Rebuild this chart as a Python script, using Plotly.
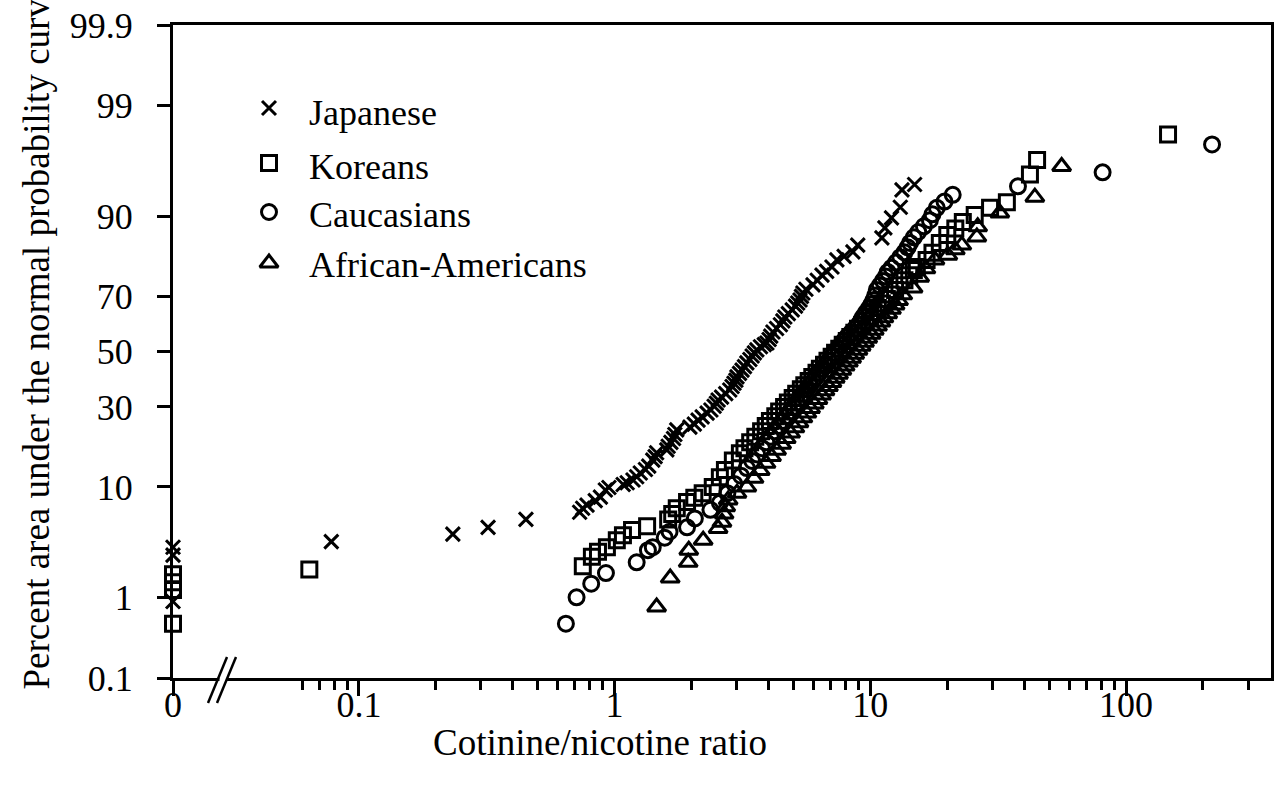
import plotly.graph_objects as go
from statistics import NormalDist

# ---------------- data ----------------
japanese_x = [0, 0, 0, 0.078, 0.233, 0.32, 0.45, 0.73, 0.75, 0.78, 0.84, 0.88, 0.92, 0.95,
              1.08, 1.12, 1.18, 1.22, 1.26, 1.32, 1.36, 1.41, 1.44, 1.46, 1.6, 1.62, 1.66, 1.70,
              1.72, 1.75, 1.97, 2.05, 2.12, 2.2, 2.3, 2.38, 2.45, 2.5, 2.54, 2.62, 2.72, 2.82,
              2.88, 2.93, 2.98, 3.01, 3.08, 3.15, 3.22, 3.29, 3.38, 3.45, 3.52, 3.6, 3.72, 3.85,
              3.94, 4.02, 4.08, 4.16, 4.3, 4.45, 4.55, 4.63, 4.78, 4.95, 5.1, 5.2, 5.31, 5.38,
              5.45, 5.6, 5.97, 6.2, 6.47, 6.75, 7.08, 7.4, 7.9, 8.55, 8.93, 11.1, 11.4, 12.1,
              13.1, 13.3, 14.9]
japanese_pct = [0.9, 2.7, 3.2, 3.6, 4.2, 4.8, 5.6, 6.4, 6.9, 7.3, 7.9, 8.4, 9.5, 9.9,
                10.4, 10.7, 11.2, 11.8, 12.5, 13.2, 13.9, 15.2, 16.0, 16.9, 17.6, 18.5, 19.5, 20.5,
                21.6, 22.9, 23.7, 24.6, 25.8, 26.8, 28.0, 29.0, 30.2, 31.2, 32.3, 33.3, 34.5, 35.8,
                37.0, 38.2, 39.3, 40.5, 41.8, 43.0, 44.3, 45.7, 47.0, 48.3, 49.5, 50.6, 51.8, 52.6,
                53.2, 54.5, 55.8, 57.3, 58.6, 60.0, 61.4, 62.8, 64.0, 65.3, 66.6, 67.7, 68.7, 69.9,
                71.0, 72.2, 73.6, 75.0, 76.5, 77.6, 78.8, 80.7, 81.6, 82.7, 84.3, 85.9, 87.9, 89.7,
                91.4, 93.7, 94.3]

koreans_x = [0, 0, 0, 0, 0.064, 0.751, 0.815, 0.861, 0.933, 1.02, 1.078, 1.17, 1.34, 1.62,
             1.68, 1.75, 1.92, 2.05, 2.21, 2.42, 2.58, 2.70, 2.90, 3.09, 3.22, 3.39, 3.55, 3.74,
             3.90, 4.05, 4.25, 4.40, 4.60, 4.76, 4.97, 5.13, 5.35, 5.52, 5.74, 5.93, 6.16, 6.35,
             6.59, 6.80, 7.06, 7.28, 7.56, 7.80, 8.09, 8.35, 8.66, 8.95, 9.29, 9.60, 9.97, 10.3,
             10.7, 11.1, 11.6, 12.0, 12.5, 13.0, 13.6, 14.2, 14.8, 15.2, 16.6, 17.5, 18.7, 20.0,
             21.5, 23.0, 25.6, 29.4, 34.2, 42.1, 44.9, 146]
koreans_pct = [0.5, 1.2, 1.45, 1.75, 1.95, 2.1, 2.6, 2.9, 3.2, 3.7, 4.1, 4.55, 4.9, 5.6,
               6.2, 6.9, 7.7, 8.3, 9.0, 10.0, 11.7, 13.1, 15.1, 16.8, 18.0, 19.5, 21.0, 22.5,
               24.0, 25.5, 27.0, 28.5, 30.0, 31.5, 33.0, 34.5, 36.0, 37.5, 39.0, 40.5, 42.0, 43.5,
               45.0, 46.5, 48.0, 49.5, 51.0, 52.5, 54.0, 55.5, 57.0, 58.5, 60.0, 61.5, 63.0, 64.5,
               66.0, 67.5, 69.0, 70.5, 72.0, 73.5, 75.0, 76.5, 78.0, 78.8, 80.7, 82.5, 84.8, 86.5,
               87.8, 89.0, 90.2, 91.3, 92.1, 95.3, 96.5, 98.0]

caucasians_x = [0.645, 0.71, 0.81, 0.925, 1.22, 1.35, 1.41, 1.57, 1.64, 1.92, 2.06, 2.37, 2.58,
                2.76, 2.94, 3.12, 3.29, 3.45, 3.61, 3.77, 3.92, 4.08, 4.23, 4.39, 4.54, 4.69,
                4.85, 5.01, 5.16, 5.32, 5.48, 5.65, 5.81, 5.98, 6.15, 6.32, 6.50, 6.68, 6.87,
                7.06, 7.26, 7.46, 7.67, 7.88, 8.10, 8.40, 8.70, 9.00, 9.20, 9.36, 9.60, 9.85,
                10.1, 10.3, 10.45, 10.6, 10.9, 11.2, 11.5, 11.7, 12.1, 12.6, 13.1, 13.6, 14.0,
                14.3, 14.8, 15.4, 16.2, 17.1, 17.5, 18.2, 19.5, 21.0, 37.8, 81, 217]
caucasians_pct = [0.5, 1.0, 1.4, 1.8, 2.3, 3.0, 3.2, 3.9, 4.4, 4.8, 5.7, 6.7, 7.6,
                  9.0, 10.5, 12.0, 13.5, 15.0, 16.5, 18.0, 19.5, 21.0, 22.5, 24.0, 25.5, 27.0,
                  28.5, 30.0, 31.5, 33.0, 34.5, 36.0, 37.5, 39.0, 40.5, 42.0, 43.5, 45.0, 46.5,
                  48.0, 49.5, 51.0, 52.5, 54.0, 55.4, 57.0, 58.5, 60.0, 61.4, 62.8, 64.3, 65.7,
                  67.2, 68.7, 70.2, 72.0, 73.4, 74.8, 76.1, 77.4, 78.6, 80.0, 81.4, 82.6, 83.8,
                  84.8, 86.0, 87.1, 88.2, 89.3, 90.3, 91.3, 92.2, 93.1, 94.1, 95.5, 97.5]

african_x = [1.46, 1.65, 1.94, 1.95, 2.22, 2.54, 2.63, 2.68, 2.72, 2.78, 3.01, 3.29, 3.51, 3.71,
             3.91, 4.11, 4.30, 4.50, 4.69, 4.88, 5.07, 5.26, 5.45, 5.65, 5.84, 6.04, 6.24, 6.45,
             6.65, 6.86, 7.08, 7.29, 7.51, 7.74, 7.97, 8.21, 8.45, 8.69, 8.95, 9.21, 9.49, 9.77,
             10.07, 10.36, 10.67, 11.0, 11.3, 11.7, 12.1, 12.5, 12.9, 13.4, 14.7, 15.6, 16.5,
             17.9, 20.1, 21.5, 22.8, 26.1, 26.3, 32.1, 44.0, 56.0]
african_pct = [0.78, 1.6, 2.3, 3.0, 3.7, 4.7, 5.3, 6.2, 7.1, 8.0, 9.0, 10.0, 11.5, 13.0,
               14.5, 16.0, 17.5, 19.0, 20.5, 22.0, 23.5, 25.0, 26.5, 28.0, 29.5, 31.0, 32.5, 34.0,
               35.5, 37.0, 38.5, 40.0, 41.5, 43.0, 44.5, 46.0, 47.5, 49.0, 50.5, 52.0, 53.5, 55.0,
               56.5, 58.0, 59.5, 61.0, 62.5, 64.0, 65.5, 67.0, 68.5, 70.4, 72.6, 75.9, 78.3,
               80.7, 81.9, 83.2, 84.3, 86.1, 88.1, 90.5, 92.8, 96.0]

series_names = ["Japanese", "Koreans", "Caucasians", "African-Americans"]

y_tick_pct = [0.1, 1, 10, 30, 50, 70, 90, 99, 99.9]
y_tick_text = ["0.1", "1", "10", "30", "50", "70", "90", "99", "99.9"]
x_tick_vals = [0.1, 1, 10, 100]
x_tick_text = ["0.1", "1", "10", "100"]
x_minor_vals = [0.06, 0.07, 0.08, 0.09, 0.2, 0.3, 0.4, 0.5, 0.6, 0.7, 0.8, 0.9,
                2, 3, 4, 5, 6, 7, 8, 9, 20, 30, 40, 50, 60, 70, 80, 90, 200, 300]

# ---------------- layout constants ----------------
W, H = 1276, 803
L, R, T, B = 173, 1271, 25, 678          # plot area in pixels
XMIN, XMAX = -1.727, 2.567               # log10 range of x axis
ZERO_POS = 10 ** XMIN                    # where zero values are drawn (on the y axis)
FONT = "Liberation Serif, Times New Roman, serif"
FS = 36

nd = NormalDist()
def zval(p):
    return nd.inv_cdf(p / 100.0)

ZLIM = zval(99.9)

def fx(px):
    return (px - L) / (R - L)

def fy(py):
    return (B - py) / (B - T)

symbols = {
    "Japanese": dict(symbol="x-thin", size=14, line=dict(width=3, color="black"), color="black"),
    "Koreans": dict(symbol="square-open", size=15, line=dict(width=3, color="black"), color="black"),
    "Caucasians": dict(symbol="circle-open", size=15, line=dict(width=3, color="black"), color="black"),
    "African-Americans": dict(symbol="triangle-up-open", size=16, line=dict(width=3, color="black"), color="black"),
}

data = {
    "Japanese": (japanese_x, japanese_pct),
    "Koreans": (koreans_x, koreans_pct),
    "Caucasians": (caucasians_x, caucasians_pct),
    "African-Americans": (african_x, african_pct),
}

fig = go.Figure()
for name in series_names:
    xs, ps = data[name]
    if len(xs) != len(ps):
        raise ValueError(f"{name}: {len(xs)} x values vs {len(ps)} percents")
    fig.add_trace(go.Scatter(
        x=[v if v > 0 else ZERO_POS for v in xs],
        y=[zval(p) for p in ps],
        mode="markers", name=name, showlegend=False,
        marker=symbols[name], cliponaxis=False,
    ))

# legend drawn manually on a pixel overlay axis
leg_marker_x = 269
leg_rows_y = [108, 163, 212, 263]
leg_text_y = [113, 167, 215, 265]
for name, my in zip(series_names, leg_rows_y):
    fig.add_trace(go.Scatter(
        x=[leg_marker_x], y=[my], xaxis="x2", yaxis="y2", mode="markers",
        marker=symbols[name], showlegend=False, cliponaxis=False, hoverinfo="skip"))

annotations = []
for name, ty in zip(series_names, leg_text_y):
    annotations.append(dict(
        text=name, xref="paper", yref="paper", x=fx(307), y=fy(ty),
        xanchor="left", yanchor="middle", showarrow=False,
        font=dict(family=FONT, size=FS, color="black")))

annotations.append(dict(
    text="Cotinine/nicotine ratio", xref="paper", yref="paper", x=fx(600), y=fy(742),
    xanchor="center", yanchor="middle", showarrow=False,
    font=dict(family=FONT, size=37, color="black")))
annotations.append(dict(
    text="Percent area under the normal probability curve", xref="paper", yref="paper",
    x=fx(36), y=fy(692), xanchor="center", yanchor="bottom", textangle=-90, showarrow=False,
    font=dict(family=FONT, size=37, color="black")))

shapes = [
    # white gap for the axis break
    dict(type="rect", xref="paper", yref="paper", x0=fx(219.5), x1=fx(226.5),
         y0=fy(682), y1=fy(674), fillcolor="white", line=dict(width=0), layer="above"),
    dict(type="line", xref="paper", yref="paper", x0=fx(208), y0=fy(703), x1=fx(227), y1=fy(657),
         line=dict(color="black", width=2.5), layer="above"),
    dict(type="line", xref="paper", yref="paper", x0=fx(217), y0=fy(703), x1=fx(236), y1=fy(657),
         line=dict(color="black", width=2.5), layer="above"),
]

fig.update_layout(
    width=W, height=H, autosize=False,
    margin=dict(l=L, r=W - R, t=T, b=H - B, pad=0, autoexpand=False),
    paper_bgcolor="white", plot_bgcolor="white",
    font=dict(family=FONT, size=FS, color="black"),
    xaxis=dict(
        type="log", range=[XMIN, XMAX], automargin=False,
        tickmode="array", tickvals=[ZERO_POS] + x_tick_vals, ticktext=["0"] + x_tick_text,
        ticks="outside", ticklen=15, tickwidth=3, tickcolor="black",
        showline=True, linewidth=3, linecolor="black", mirror=True,
        showgrid=False, zeroline=False, ticklabelstandoff=-22,
        minor=dict(tickmode="array", tickvals=x_minor_vals, ticks="outside",
                   ticklen=9, tickwidth=3, tickcolor="black", showgrid=False),
        tickfont=dict(family=FONT, size=FS, color="black"),
    ),
    yaxis=dict(
        range=[-ZLIM, ZLIM], automargin=False,
        tickmode="array", tickvals=[zval(p) for p in y_tick_pct], ticktext=y_tick_text,
        ticks="outside", ticklen=13, tickwidth=3, tickcolor="black",
        showline=True, linewidth=3, linecolor="black", mirror=True,
        showgrid=False, zeroline=False, ticklabelstandoff=17,
        tickfont=dict(family=FONT, size=FS, color="black"),
    ),
    xaxis2=dict(overlaying="x", range=[L, R], visible=False, anchor="y2"),
    yaxis2=dict(overlaying="y", range=[B, T], visible=False, anchor="x2"),
    annotations=annotations,
    shapes=shapes,
    showlegend=False,
)

fig.write_html(
    "out.html",
    config={"displayModeBar": False},
    post_script="document.body.style.margin='0';document.body.style.overflow='hidden';",
)
